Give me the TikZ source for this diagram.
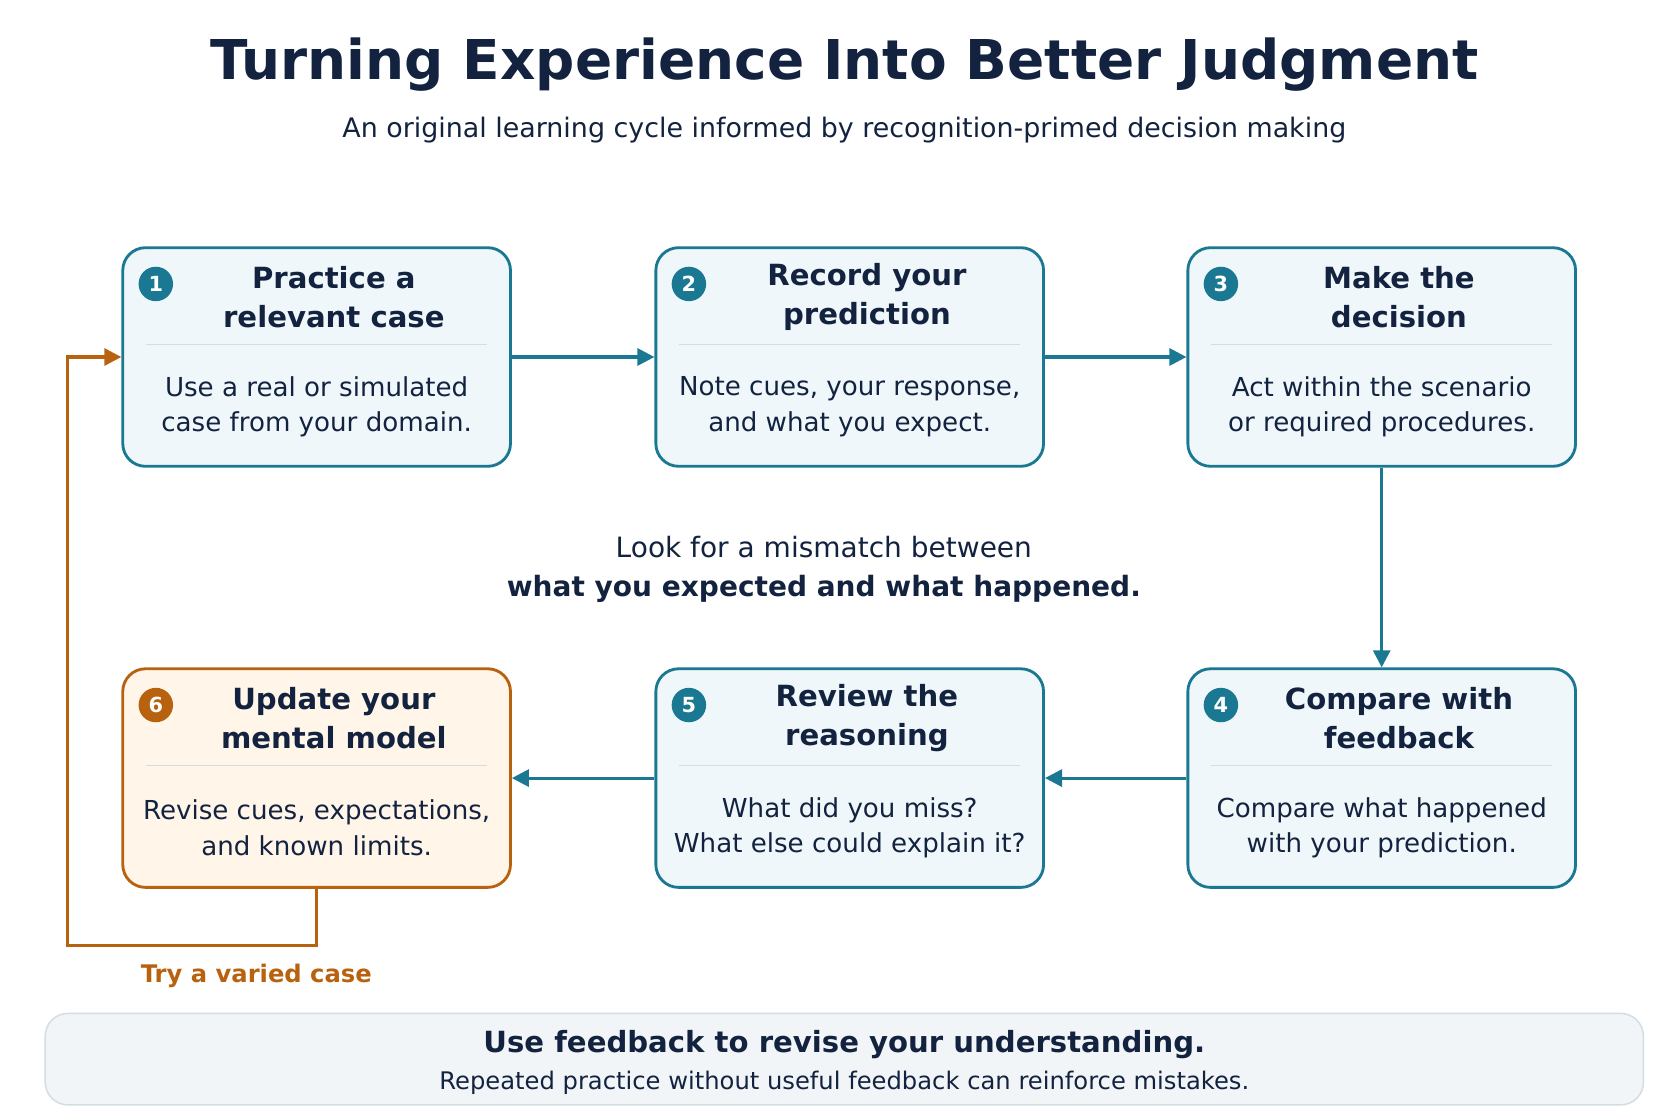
\documentclass[tikz,border=0pt]{standalone}
\usepackage{fontspec}
\setmainfont{DejaVu Sans}
\usepackage{tikz}
\usetikzlibrary{positioning,arrows.meta,calc}
\definecolor{ink}{HTML}{13233F}
\definecolor{teal}{HTML}{1B7892}
\definecolor{tealfill}{HTML}{EFF7FB}
\definecolor{amber}{HTML}{B8620F}
\definecolor{amberfill}{HTML}{FFF6E9}
\definecolor{bannerfill}{HTML}{F1F5F8}
\definecolor{rule}{HTML}{D3DDE3}
\tikzset{
  stage/.style={draw=teal, line width=0.75pt, fill=tealfill, rounded corners=6pt, minimum width=3.6cm, minimum height=2.03cm, inner sep=0pt},
  laststage/.style={stage, draw=amber, fill=amberfill},
  badge/.style={circle, text=white, font=\bfseries\fontsize{5.5}{6}\selectfont, minimum size=0.32cm, inner sep=0pt},
  head/.style={text=ink, font=\bfseries\fontsize{7.7}{10.3}\selectfont, align=center},
  body/.style={text=ink, font=\fontsize{6.9}{9.3}\selectfont, align=center},
  flow/.style={draw=teal, line width=0.8pt, -{Triangle[length=4.5pt,width=4.5pt]}},
  back/.style={draw=amber, line width=0.8pt, -{Triangle[length=4.5pt,width=4.5pt]}}
}
% box: name, center x, center y, number, title, text, style, badge colour
\newcommand{\stagebox}[8]{
  \node[#7] (#1) at (#2,#3) {};
  \node[badge, fill=#8] (#1n) at ($(#1.north west)+(0.32,-0.35)$) {#4};
  \node[head] (#1h) at ($(#1.north)+(0.16,-0.47)$) {#5};
  \draw[rule, line width=0.4pt] ($(#1.north west)+(0.23,-0.91)$) -- ($(#1.north east)+(-0.23,-0.91)$);
  \node[body] (#1b) at ($(#1.north)+(0,-1.49)$) {#6};
}
\begin{document}
\begin{tikzpicture}
\useasboundingbox (0,0) rectangle (15.6,-10.4);
\node[text=ink, font=\bfseries\fontsize{14.5}{17}\selectfont] (title) at (7.84,-0.6) {Turning Experience Into Better Judgment};
\node[text=ink, font=\fontsize{7.1}{9}\selectfont] (sub) at (7.84,-1.21) {An original learning cycle informed by recognition-primed decision making};

\stagebox{practice}{2.94}{-3.315}{1}{Practice a\\relevant case}{Use a real or simulated\\case from your domain.}{stage}{teal}
\stagebox{record}{7.89}{-3.315}{2}{Record your\\prediction}{Note cues, your response,\\and what you expect.}{stage}{teal}
\stagebox{decide}{12.83}{-3.315}{3}{Make the\\decision}{Act within the scenario\\or required procedures.}{stage}{teal}
\stagebox{compare}{12.83}{-7.225}{4}{Compare with\\feedback}{Compare what happened\\with your prediction.}{stage}{teal}
\stagebox{review}{7.89}{-7.225}{5}{Review the\\reasoning}{What did you miss?\\What else could explain it?}{stage}{teal}
\stagebox{update}{2.94}{-7.225}{6}{Update your\\mental model}{Revise cues, expectations,\\and known limits.}{laststage}{amber}

\draw[flow] (practice.east) -- (record.west);
\draw[flow] (record.east) -- (decide.west);
\draw[flow] (decide.south) -- (compare.north);
\draw[flow] (compare.west) -- (review.east);
\draw[flow] (review.west) -- (update.east);
\coordinate (loopa) at (2.94,-8.78);
\coordinate (loopb) at (0.63,-8.78);
\coordinate (loopc) at (0.63,-3.315);
\draw[back] (update.south) -- (loopa) -- (loopb) -- (loopc) -- (practice.west);
\node[text=amber, font=\bfseries\fontsize{6.4}{8}\selectfont] (varied) at (2.38,-9.06) {Try a varied case};

\node[text=ink, font=\fontsize{7.4}{10.3}\selectfont, align=center] (mismatch) at (7.65,-5.29) {Look for a mismatch between\\\textbf{what you expected and what happened.}};

\node[draw=rule, line width=0.4pt, fill=bannerfill, rounded corners=6pt, minimum width=14.84cm, minimum height=0.85cm] (banner) at (7.84,-9.835) {};
\node[text=ink, font=\bfseries\fontsize{7.7}{9}\selectfont] (bannerh) at (7.84,-9.7) {Use feedback to revise your understanding.};
\node[text=ink, font=\fontsize{6.4}{8}\selectfont] (bannerb) at (7.84,-10.05) {Repeated practice without useful feedback can reinforce mistakes.};
\end{tikzpicture}
\end{document}
